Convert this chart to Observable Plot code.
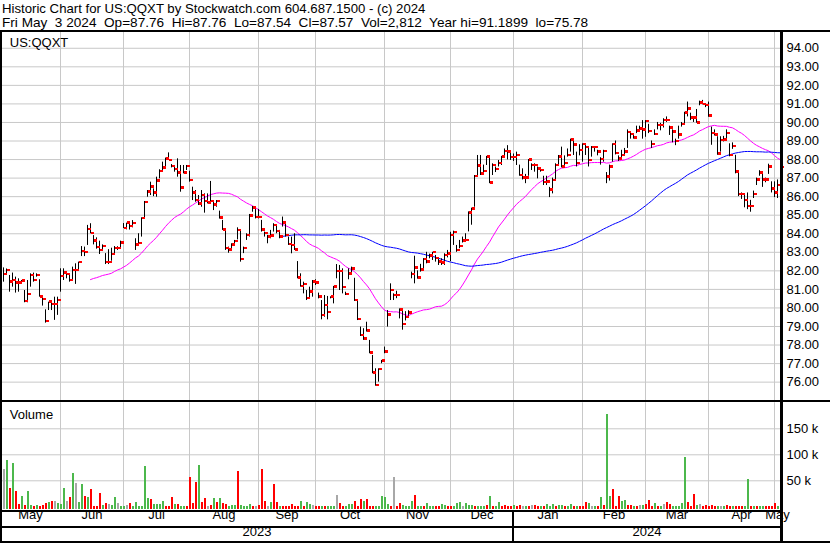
<!DOCTYPE html>
<html>
<head>
<meta charset="utf-8">
<script src="https://cdn.jsdelivr.net/npm/d3@7"></script>
<script src="https://cdn.jsdelivr.net/npm/@observablehq/plot@0.6"></script>
<style>
html,body{margin:0;padding:0;background:#fff;}
#wrap{position:relative;width:830px;height:543px;overflow:hidden;background:#fff;}
#wrap svg{position:absolute;left:0;}
</style>
</head>
<body>
<div id="wrap"></div>
<script>
const FONT = "'Liberation Sans', Arial, sans-serif";

const header1 = "Historic Chart for US:QQXT by Stockwatch.com 604.687.1500 - (c) 2024";
const header2 = "Fri May  3 2024  Op=87.76  Hi=87.76  Lo=87.54  Cl=87.57  Vol=2,812  Year hi=91.1899  lo=75.78";
const symbolLabel = "US:QQXT";
const volumeLabel = "Volume";

const monthLabels = ["May","Jun","Jul","Aug","Sep","Oct","Nov","Dec","Jan","Feb","Mar","Apr","May"];
const monthBars   = [19, 21, 22, 23, 19, 23, 22, 21, 23, 21, 21, 22, 3];
const yearLabels  = ["2023", "2024"];
const yearMonthCounts = [8, 5];
const priceTicks  = [76,77,78,79,80,81,82,83,84,85,86,87,88,89,90,91,92,93,94];
const volumeTicks = [50, 100, 150];
const maPeriods   = [30, 93];

const close = [
// May
81.79,82.02,81.39,81.48,81.34,81.34,81.45,80.35,80.73,81.75,81.48,81.75,80.58,80.46,79.27,80.31,80.17,80.17,80.40,
// Jun
81.71,81.88,81.79,81.48,82.02,82.02,82.45,83.04,82.99,84.23,84.01,83.60,83.27,83.10,83.31,82.45,82.45,82.88,83.22,83.22,83.50,
// Jul
84.28,84.57,84.40,84.54,83.40,83.49,84.82,85.69,86.25,86.51,86.20,86.84,87.36,87.54,88.02,87.95,87.63,87.45,87.28,86.46,87.28,87.63,
// Aug
86.87,86.20,85.79,85.61,86.06,85.75,85.65,85.74,85.56,85.75,84.84,84.21,83.22,83.13,83.40,83.58,84.17,82.61,83.22,83.90,84.95,85.38,84.86,
// Sep
84.86,84.20,84.00,83.82,83.87,84.45,84.12,83.82,84.57,83.90,83.42,83.37,83.13,81.61,81.16,81.27,80.50,80.85,81.39,
// Oct
81.34,80.58,79.60,80.13,79.77,80.58,81.12,81.98,81.98,81.09,80.74,81.84,82.11,80.40,79.38,78.53,78.32,78.75,77.58,76.50,75.82,76.68,77.13,
// Nov
77.62,79.61,80.94,80.67,80.67,79.88,79.10,79.50,79.73,81.80,82.16,81.62,82.05,82.60,82.47,82.79,83.00,82.65,82.47,82.43,82.83,82.90,
// Dec
83.90,84.08,83.10,83.32,83.60,83.64,85.11,85.33,87.10,87.65,87.23,87.37,88.13,86.73,87.68,87.46,87.80,88.13,88.45,88.40,88.10,
// Jan
88.10,88.22,87.14,87.00,87.00,87.97,87.68,87.68,87.50,87.41,86.75,86.78,86.35,86.87,87.68,88.13,87.59,87.80,88.22,89.06,88.79,87.80,88.50,
// Feb
88.82,88.64,87.95,88.64,88.64,88.40,88.00,88.43,87.05,87.60,88.80,88.34,88.04,88.22,88.40,89.46,89.35,89.17,89.55,89.65,89.60,
// Mar
90.05,89.51,88.80,89.35,89.84,89.84,90.10,90.10,89.70,89.48,88.97,89.33,89.89,90.50,90.73,90.23,90.23,89.98,91.04,90.97,90.90,
// Apr
90.34,89.39,89.33,88.31,89.03,89.06,89.42,88.22,88.70,87.32,86.12,86.10,85.80,85.47,85.47,86.10,86.90,87.27,86.90,86.90,87.59,86.42,
// May
86.20,86.60,87.57];

const high = [
82.16,82.10,81.75,81.88,81.66,81.57,81.48,80.94,81.48,81.84,81.88,81.84,81.52,80.58,79.90,80.31,80.40,80.58,80.58,
82.11,82.11,81.93,81.84,82.20,82.38,82.47,83.31,83.28,84.45,84.54,83.90,83.78,83.60,83.40,82.93,83.14,83.22,83.31,83.30,83.60,
84.55,84.57,84.60,84.71,83.73,84.00,84.86,85.74,86.33,86.78,86.42,87.05,87.45,87.86,88.08,88.36,87.73,87.68,88.04,87.68,87.68,87.68,
87.37,86.51,86.33,86.06,86.33,86.15,86.15,86.82,85.79,85.79,85.22,84.72,84.21,83.28,83.46,83.64,84.32,84.21,83.28,84.00,85.04,85.47,85.34,
85.31,84.72,84.09,83.91,84.18,84.54,84.45,84.18,84.90,84.54,83.82,83.82,84.00,82.50,81.84,81.39,80.94,81.12,81.48,
81.52,80.80,80.40,80.67,80.62,80.60,81.16,82.34,82.29,82.11,80.85,82.11,82.20,81.60,80.40,78.97,78.88,79.23,78.25,77.44,76.72,76.72,77.17,
77.89,79.86,81.30,80.76,80.90,79.95,79.96,79.80,79.85,81.93,82.79,82.00,82.35,82.66,83.00,82.90,83.00,82.83,82.65,82.65,82.92,83.10,
84.08,84.14,83.37,83.64,83.82,84.00,85.18,85.38,87.14,88.22,88.22,87.70,88.17,88.13,87.77,87.60,87.95,88.17,88.57,88.75,88.40,
88.30,88.40,87.70,87.50,87.20,88.00,87.77,87.77,87.60,87.55,87.10,87.10,86.50,87.00,87.77,88.22,88.67,88.20,88.57,89.10,89.00,88.40,88.80,
88.85,88.85,88.65,88.70,88.70,88.50,88.10,88.50,87.30,87.70,88.85,89.00,88.20,88.50,88.60,89.60,89.50,89.40,89.80,89.80,90.10,
90.10,89.90,89.00,89.60,90.00,89.95,90.20,90.30,89.80,89.60,89.10,89.80,90.00,90.55,91.10,90.50,90.30,90.70,91.15,91.19,91.00,
91.10,89.75,89.60,89.23,89.23,89.25,89.60,88.85,88.90,88.23,87.30,86.20,86.10,86.20,85.80,86.30,87.00,87.40,87.30,87.00,87.75,86.80,
86.80,86.90,87.76];

const low = [
81.39,81.80,80.85,81.12,80.80,80.85,81.27,80.28,80.28,81.12,81.39,81.66,80.58,80.10,79.18,79.86,79.86,79.33,79.60,
80.85,81.48,81.57,81.39,81.48,81.27,81.97,82.77,82.77,83.37,84.00,83.40,83.17,82.88,83.04,82.34,82.34,82.52,82.93,83.10,83.20,
84.28,84.21,84.20,84.32,83.10,83.37,83.82,84.80,85.97,86.06,86.00,85.97,86.96,87.37,87.50,87.95,87.55,87.32,87.05,86.24,87.23,87.41,
86.78,85.79,85.70,85.52,85.43,85.11,85.61,85.65,85.25,85.43,84.79,84.18,83.10,82.95,83.10,83.46,83.67,82.47,82.93,83.64,83.82,85.16,84.80,
84.80,84.09,83.82,83.46,83.73,84.09,84.00,83.73,84.36,83.82,83.37,82.92,83.10,81.57,81.12,80.76,80.40,80.49,80.58,
81.21,80.49,79.36,79.50,79.36,80.49,80.22,81.57,80.94,80.76,80.67,81.52,81.84,80.35,79.32,78.46,78.25,78.70,77.53,76.45,75.78,76.00,76.99,
77.53,78.97,80.40,80.40,80.50,79.41,78.80,79.30,79.55,81.57,81.30,81.55,81.93,82.12,82.38,82.65,82.56,82.47,82.29,82.29,82.29,82.70,
82.50,83.37,83.00,83.19,83.50,83.55,84.10,84.46,85.43,87.05,87.14,87.30,87.68,86.70,87.14,87.30,87.60,87.68,88.10,87.98,87.95,
87.90,87.68,87.10,86.90,86.70,87.10,87.41,87.32,86.96,87.32,86.60,86.60,85.95,86.15,86.87,87.68,87.55,87.60,88.13,88.40,88.22,87.60,88.20,
87.86,88.22,87.60,88.13,88.40,88.20,87.70,87.86,86.70,86.84,87.86,88.25,87.90,87.95,88.20,88.60,89.10,89.10,89.40,89.50,89.10,
89.20,89.40,88.60,89.30,89.60,89.55,89.70,90.00,89.30,88.90,88.75,89.10,89.75,89.84,90.30,90.10,90.00,89.96,90.90,90.95,90.80,
90.28,88.77,89.27,88.23,88.40,88.95,89.10,88.15,88.55,87.23,86.00,85.85,85.40,85.30,85.16,85.90,86.60,87.10,86.50,86.75,87.20,86.20,
85.95,85.90,87.54];

// volume in thousands
const volume = [
72.5,88.5,36,83,29.5,3.8,19,1.9,28.8,1.9,0.5,1.9,1,1.9,6,8.5,9.6,9.6,6.4,
3.8,34.6,9.6,17.3,63.5,44,8.3,42,19.2,17.3,32.7,0.5,1,25,1.9,5.8,3.8,1.9,17.3,5.8,1.5,
1,1.9,5.8,1,8.3,1,1,77,15.4,13.5,5,3.8,3.8,9.6,1,1,17.3,3.8,3.8,1,0.5,1,
55.8,5.8,46,79,7.7,15.4,1,1.9,15.4,7.7,15.4,5.8,3.8,1,1.9,1.9,67,1.9,0.3,0.5,3.8,0.3,0.5,
1.9,71,9.6,1,7.7,42,7.7,1,0.3,0.5,1,3.8,1,0.3,9.6,0.5,7.7,3.8,1.9,
0.5,0.5,1,1,1,1,1,21,5.8,0.3,1,3.8,3.8,9.6,0.5,13.5,9.6,13.5,1,0.5,1,1,19.2,
17.3,3.8,0.5,55.8,0.5,5.8,1.9,1,0.5,9.6,21,0.5,0.5,0.5,5.8,0.3,0.3,0.5,0.5,3.8,1.9,1,
0.5,0.5,5.8,7.7,1,5.8,1.9,1.9,1,1,0.5,0.5,1.9,19.2,1,0.3,7.7,0.3,1.9,0.5,0.5,
1.9,1,1.9,1,0.5,1,1.9,1.9,0.5,0.3,0.5,3.8,0.3,3.8,1,1.9,1.9,1,0.3,3.8,0.5,0.3,0.3,
0.3,7.7,5.8,1,1,0.5,17.3,1.9,177,19.2,32.7,0.5,19.2,9.6,11.5,1.9,1.9,0.3,0.5,1.9,1.9,
3.8,11.5,0.3,5.8,0.5,1,3.8,7.7,3.8,0.5,0.5,1,5.8,94,7.7,0.5,23,1.9,3.8,0.5,1.9,
0.5,1.9,0.5,1,0.5,0.5,1.9,0.5,0.5,1,0.5,0.3,0.5,52,0.5,0.5,0.3,0.5,0.3,0.5,0.3,1,
5.8,1,2.812];

// u = up (green), d = down (red), n = unchanged (grey)
const dirCodes = `
nudu ddud uudu dddu dnu
uund unuu dudd ddud nuun u
undu uuuu uduu uudd dudu ud
dddu ddnd udud duuu duuu udn
dddn uddu dddd ddud uun
ddud uuun dduu uddd uddd uuu
uudn dduu uudu uduu uddu ud
duuu nuuu duuu dudu uddd d
uddn udnd dudu uudu uduu dud
ddun udud uudd duud dudn u
dddu dund duuu uudd dund d
dddu nudd uddd uudu duud dd
duu`;

const dirs = dirCodes.replace(/\s+/g, "").split("");
const N = close.length;
[["high", high], ["low", low], ["volume", volume], ["dirs", dirs]].forEach(([k, a]) => {
  if (a.length !== N) throw new Error("length mismatch " + k + ": " + a.length + " vs " + N);
});
if (d3.sum(monthBars) !== N) throw new Error("month count " + d3.sum(monthBars));

const bars = close.map((c, i) => ({i, c, h: high[i], l: low[i], v: volume[i], d: dirs[i]}));
const starts = []; { let acc = 0; for (const n of monthBars) { starts.push(acc); acc += n; } }
const grid = starts.slice(1);
const bounds = [-1, ...grid, N - 1];
const months = monthLabels.map((label, m) => ({label, c: (bounds[m] + bounds[m + 1]) / 2}));
const yearStart = starts[yearMonthCounts[0]];
const yb = [-1, yearStart, N - 1];
const years = yearLabels.map((label, k) => ({label, c: (yb[k] + yb[k + 1]) / 2}));
const sma = k => close.map((_, i) => i < k - 1 ? NaN : d3.mean(close.slice(i - k + 1, i + 1)));
const maFast = sma(maPeriods[0]), maSlow = sma(maPeriods[1]);
const colors = {u: "#4cb84c", d: "#ff0000", n: "#a8a8a8"};
const GRID = "#c8c8c8";
const baseStyle = {fontFamily: FONT, fontSize: "13px", color: "#000", background: "transparent", overflow: "visible"};

const price = Plot.plot({
  width: 830, height: 370, marginLeft: 3, marginRight: 50, marginTop: 1, marginBottom: 1,
  style: baseStyle,
  x: {domain: [0, N - 1], axis: null},
  y: {domain: [75.01, 94.85], axis: "right", ticks: priceTicks, tickFormat: d => d.toFixed(2), tickSize: 0, tickPadding: 6, label: null},
  marks: [
    Plot.ruleY(priceTicks, {stroke: GRID, insetLeft: -1}),
    Plot.ruleX(grid, {stroke: GRID}),
    Plot.line(bars, {x: "i", y: d => maFast[d.i], stroke: "#ff00ff", strokeWidth: 1}),
    Plot.line(bars, {x: "i", y: d => maSlow[d.i], stroke: "#0000ff", strokeWidth: 1}),
    Plot.ruleX(bars, {x: "i", y1: "l", y2: "h", stroke: "#000", strokeWidth: 1}),
    Plot.rect(bars, {x1: "i", x2: "i", y1: "c", y2: "c", fill: "#ff0000",
      insetLeft: 1, insetRight: -3.6, insetTop: -1.2, insetBottom: -1.2, shapeRendering: "crispEdges"}),
    Plot.text([symbolLabel], {text: d => d, frameAnchor: "top-left", lineAnchor: "top", textAnchor: "start", dx: 6.3, dy: 5.3, fontSize: 13})
  ]
});
price.style.position = "absolute"; price.style.top = "31px"; price.style.left = "0px";

const vol = Plot.plot({
  width: 830, height: 142, marginLeft: 3, marginRight: 50, marginTop: 1.3, marginBottom: 36.7,
  style: baseStyle,
  x: {domain: [0, N - 1], axis: null},
  y: {domain: [0, 200], axis: "right", ticks: volumeTicks, tickFormat: d => d + " k", tickSize: 0, tickPadding: 6, label: null},
  color: {type: "identity"},
  marks: [
    Plot.ruleY(volumeTicks, {stroke: GRID, insetLeft: -1}),
    Plot.ruleX(grid, {stroke: GRID, insetBottom: -3}),
    Plot.rect(bars, {x1: "i", x2: "i", y1: () => 0, y2: "v", fill: d => colors[d.d],
      insetLeft: -0.5, insetRight: -1.5, insetBottom: -3, shapeRendering: "crispEdges"}),
    Plot.text([volumeLabel], {text: d => d, frameAnchor: "top-left", lineAnchor: "top", textAnchor: "start", dx: 6.3, dy: 6.5, fontSize: 13}),
    Plot.text(months, {x: "c", text: "label", frameAnchor: "bottom", dy: 12.5, fontSize: 13}),
    Plot.text(years, {x: "c", text: "label", frameAnchor: "bottom", dy: 29.2, fontSize: 13})
  ]
});
vol.style.position = "absolute"; vol.style.top = "401px"; vol.style.left = "0px";

const wrap = document.getElementById("wrap");
wrap.appendChild(price);
wrap.appendChild(vol);

// frame, separators and header
const xYear = vol.scale("x").apply(yearStart);
const over = d3.create("svg").attr("width", 830).attr("height", 543)
  .style("position", "absolute").style("left", "0px").style("top", "0px")
  .attr("font-family", FONT);
over.append("text").attr("x", 2).attr("y", 13.3).attr("font-size", 13.2).attr("fill", "#000")
  .style("white-space", "pre").attr("xml:space", "preserve").text(header1);
over.append("text").attr("x", 2).attr("y", 27.3).attr("font-size", 13.6).attr("fill", "#000")
  .style("white-space", "pre").attr("xml:space", "preserve").text(header2);
const lines = [
  [0, 30, 830, 2],   // top
  [0, 30, 2, 513],   // left
  [0, 400, 830, 2],  // price / volume
  [0, 510, 783, 2],  // x axis
  [0, 526, 783, 2],  // months / years
  [0, 541, 830, 2],  // bottom
  [780, 30, 3, 513], // right axis
  [xYear - 1, 510, 2, 33] // year divider
];
over.selectAll("rect").data(lines).join("rect")
  .attr("x", d => d[0]).attr("y", d => d[1]).attr("width", d => d[2]).attr("height", d => d[3])
  .attr("fill", "#000").attr("shape-rendering", "crispEdges");
wrap.appendChild(over.node());
</script>
</body>
</html>
